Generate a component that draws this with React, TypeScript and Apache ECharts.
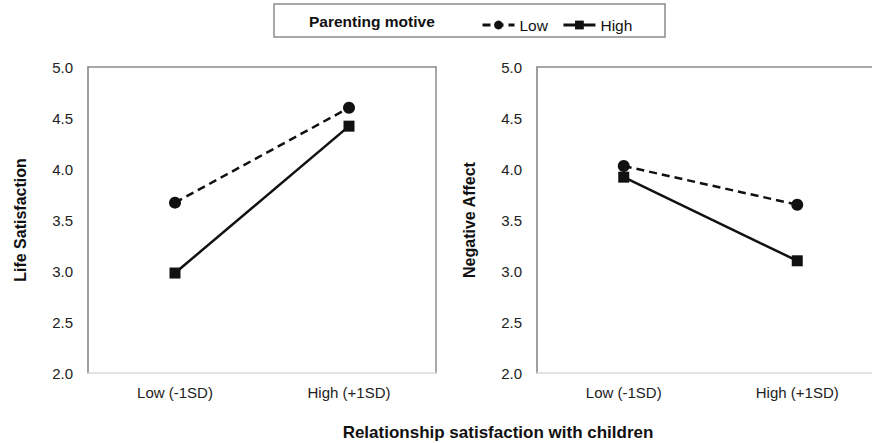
import React, { useEffect, useRef } from "react";
import * as echarts from "echarts";

const categories = ["Low (-1SD)", "High (+1SD)"];
const lifeSatLow = [3.67, 4.6];
const lifeSatHigh = [2.98, 4.42];
const negAffLow = [4.03, 3.65];
const negAffHigh = [3.92, 3.1];
const yTicksMin = 2;
const yTicksMax = 5;
const yTickStep = 0.5;
const leftTitle = "Life Satisfaction";
const rightTitle = "Negative Affect";
const xTitle = "Relationship satisfaction with children";
const legendTitle = "Parenting motive";

const FONT = "'Liberation Sans', Arial, sans-serif";

export default function App() {
  const ref = useRef<HTMLDivElement>(null);
  useEffect(() => {
    if (!ref.current) return;
    const chart = echarts.init(ref.current, undefined, { renderer: "svg" });
    const grids = [
      { left: 88, top: 67, width: 348, height: 306, outerBoundsMode: "none", containLabel: false },
      { left: 537, top: 67, width: 347, height: 306, outerBoundsMode: "none", containLabel: false },
    ];
    const mainX = (gi: number) => ({
      type: "category",
      gridIndex: gi,
      data: categories,
      boundaryGap: true,
      axisLine: { show: true, lineStyle: { color: "#d9d9d9", width: 1.5 } },
      axisTick: { show: false },
      axisLabel: { color: "#222", fontSize: 15, fontFamily: FONT, margin: 12 },
      splitLine: { show: false },
    });
    const topX = (gi: number) => ({
      type: "category",
      gridIndex: gi,
      position: "top",
      data: categories,
      axisLine: { show: true, lineStyle: { color: "#8c8c8c", width: 1.5 } },
      axisTick: { show: false },
      axisLabel: { show: false },
      splitLine: { show: false },
    });
    const mainY = (gi: number, name: string) => ({
      type: "value",
      gridIndex: gi,
      min: yTicksMin,
      max: yTicksMax,
      interval: yTickStep,
      name,
      nameLocation: "middle",
      nameGap: 60,
      nameTextStyle: { color: "#111", fontSize: 16, fontWeight: "bold", fontFamily: FONT },
      axisLine: { show: true, lineStyle: { color: "#7f7f7f", width: 1.5 } },
      axisTick: { show: false },
      axisLabel: {
        color: "#222",
        fontSize: 15,
        fontFamily: FONT,
        margin: 15,
        formatter: (v: number) => v.toFixed(1),
      },
      splitLine: { show: false },
    });
    const rightY = (gi: number) => ({
      type: "value",
      gridIndex: gi,
      position: "right",
      min: yTicksMin,
      max: yTicksMax,
      interval: yTickStep,
      axisLine: { show: true, lineStyle: { color: "#8c8c8c", width: 1.5 } },
      axisTick: { show: false },
      axisLabel: { show: false },
      splitLine: { show: false },
    });
    const lowSeries = (gi: number, data: number[]) => ({
      type: "line",
      name: "Low",
      xAxisIndex: gi,
      yAxisIndex: gi,
      data,
      symbol: "circle",
      symbolSize: 12,
      lineStyle: { color: "#111", width: 2.5, type: [8, 5] },
      itemStyle: { color: "#111" },
    });
    const highSeries = (gi: number, data: number[]) => ({
      type: "line",
      name: "High",
      xAxisIndex: gi,
      yAxisIndex: gi,
      data,
      symbol: "rect",
      symbolSize: 11,
      lineStyle: { color: "#111", width: 2.5, type: "solid" },
      itemStyle: { color: "#111" },
    });
    chart.setOption({
      animation: false,
      backgroundColor: "#fff",
      textStyle: { fontFamily: FONT },
      grid: grids,
      xAxis: [mainX(0), mainX(1), topX(0), topX(1)],
      yAxis: [mainY(0, leftTitle), mainY(1, rightTitle), rightY(0), rightY(1)],
      legend: {
        data: ["Low", "High"],
        left: 476,
        top: 12,
        itemWidth: 32,
        itemHeight: 11,
        itemGap: 14,
        textStyle: { color: "#111", fontSize: 15.5, fontFamily: FONT },
        lineStyle: { width: 3 },
      },
      graphic: [
        {
          type: "rect",
          shape: { x: 274, y: 4, width: 391, height: 33 },
          style: { fill: "none", stroke: "#8c8c8c", lineWidth: 1.5 },
        },
        {
          type: "text",
          x: 309,
          y: 21,
          style: {
            text: legendTitle,
            fill: "#111",
            font: `bold 15.5px ${FONT}`,
            verticalAlign: "middle",
          },
        },
        {
          type: "text",
          x: 498,
          y: 432,
          style: {
            text: xTitle,
            fill: "#111",
            font: `bold 17px ${FONT}`,
            align: "center",
            verticalAlign: "middle",
          },
        },
      ],
      series: [
        lowSeries(0, lifeSatLow),
        highSeries(0, lifeSatHigh),
        lowSeries(1, negAffLow),
        highSeries(1, negAffHigh),
      ],
    });
    return () => chart.dispose();
  }, []);
  return (
    <div
      ref={ref}
      style={{ position: "absolute", left: 0, top: 0, width: 872, height: 443, background: "#fff" }}
    />
  );
}
